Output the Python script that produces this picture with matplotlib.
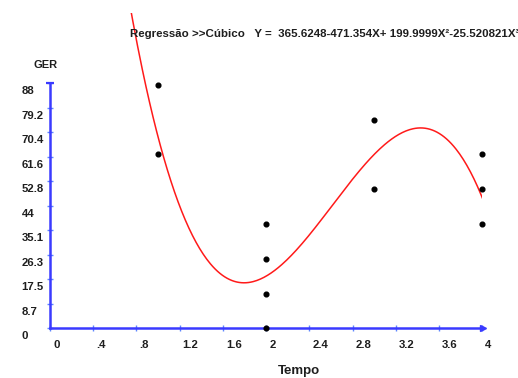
import matplotlib
matplotlib.use("Agg")
import matplotlib.pyplot as plt
import matplotlib.transforms as mtransforms
import numpy as np

# Data
tempo = [1, 1, 2, 2, 2, 2, 3, 3, 4, 4, 4]
ger = [87.5, 62.5, 37.5, 25.0, 12.5, 0.0, 75.0, 50.0, 62.5, 50.0, 37.5]
# cubic regression coefficients shown in the header (a0, a1, a2, a3)
coef = [365.6248, -471.354, 199.9999, -25.520821]

x_ticks = [0, 0.4, 0.8, 1.2, 1.6, 2.0, 2.4, 2.8, 3.2, 3.6, 4.0]
x_labels = ["0", ".4", ".8", "1.2", "1.6", "2", "2.4", "2.8", "3.2", "3.6", "4"]
y_ticks = [0, 8.8, 17.6, 26.4, 35.2, 44.0, 52.8, 61.6, 70.4, 79.2, 88.0]
y_labels = ["0", "8.7", "17.5", "26.3", "35.1", "44", "52.8", "61.6", "70.4", "79.2", "88"]

plt.rcParams["font.family"] = ["Liberation Sans", "DejaVu Sans"]
plt.rcParams["font.weight"] = "bold"

W, H = 518, 378
fig = plt.figure(figsize=(W / 100, H / 100), dpi=100)
ax = fig.add_axes([50 / W, 49.7 / H, 432.3 / W, 315.3 / H])
ax.set_xlim(0, 4)
ax.set_ylim(0, 113.3)
for s in ax.spines.values():
    s.set_visible(False)

axis_blue = "#3a3aff"
tick_blue = "#5f86ff"
label_col = "#1e1e1e"

# axes lines with arrowheads
ax.plot([0, 4.01], [0, 0], color=axis_blue, lw=1.8, clip_on=False, zorder=2)
ax.plot([4.01], [0], marker=">", ms=4.5, color=axis_blue, clip_on=False, zorder=2)
ax.plot([0, 0], [0, 88], color=axis_blue, lw=1.8, clip_on=False, zorder=2)
ax.plot([0], [88], marker="_", ms=6, mew=1.6, color=axis_blue, clip_on=False, zorder=2)

ax.set_xticks(x_ticks)
ax.set_xticklabels(x_labels, fontsize=8.2, color=label_col, ha="left")
ax.set_yticks(y_ticks)
ax.set_yticklabels(y_labels, fontsize=8.2, color=label_col, ha="left")
ax.tick_params(axis="x", direction="inout", length=5, width=1, color=tick_blue, pad=6)
ax.tick_params(axis="y", direction="inout", length=5, width=1, color=tick_blue, pad=18)

# shift tick labels like the original (x right, y down)
shift_x = mtransforms.ScaledTranslation(3 / 100, 0, fig.dpi_scale_trans)
for lab in ax.get_xticklabels():
    lab.set_transform(lab.get_transform() + shift_x)
shift_y = mtransforms.ScaledTranslation(0, -7 / 100, fig.dpi_scale_trans)
for lab in ax.get_yticklabels():
    lab.set_transform(lab.get_transform() + shift_y)

# regression curve from the displayed coefficients
xs = np.linspace(0.7, 4.0, 300)
ys = np.polyval(coef[::-1], xs)
ax.plot(xs, ys, color="#ff1a1a", lw=1.1, zorder=3)

ax.plot(tempo, ger, "o", color="black", ms=3.4, clip_on=False, zorder=4)

fig.text(130 / W, 1 - 34 / H,
         "Regressão >>Cúbico   Y =  365.6248-471.354X+ 199.9999X²-25.520821X³",
         fontsize=8.25, fontweight="bold", color=label_col, va="center", ha="left")
fig.text(46 / W, 1 - 65 / H, "GER", fontsize=8, fontweight="bold",
         color=label_col, va="center", ha="center")
fig.text(299 / W, 1 - 371 / H, "Tempo", fontsize=9.5, fontweight="bold",
         color=label_col, va="center", ha="center")

fig.savefig("out.png", dpi=100)
